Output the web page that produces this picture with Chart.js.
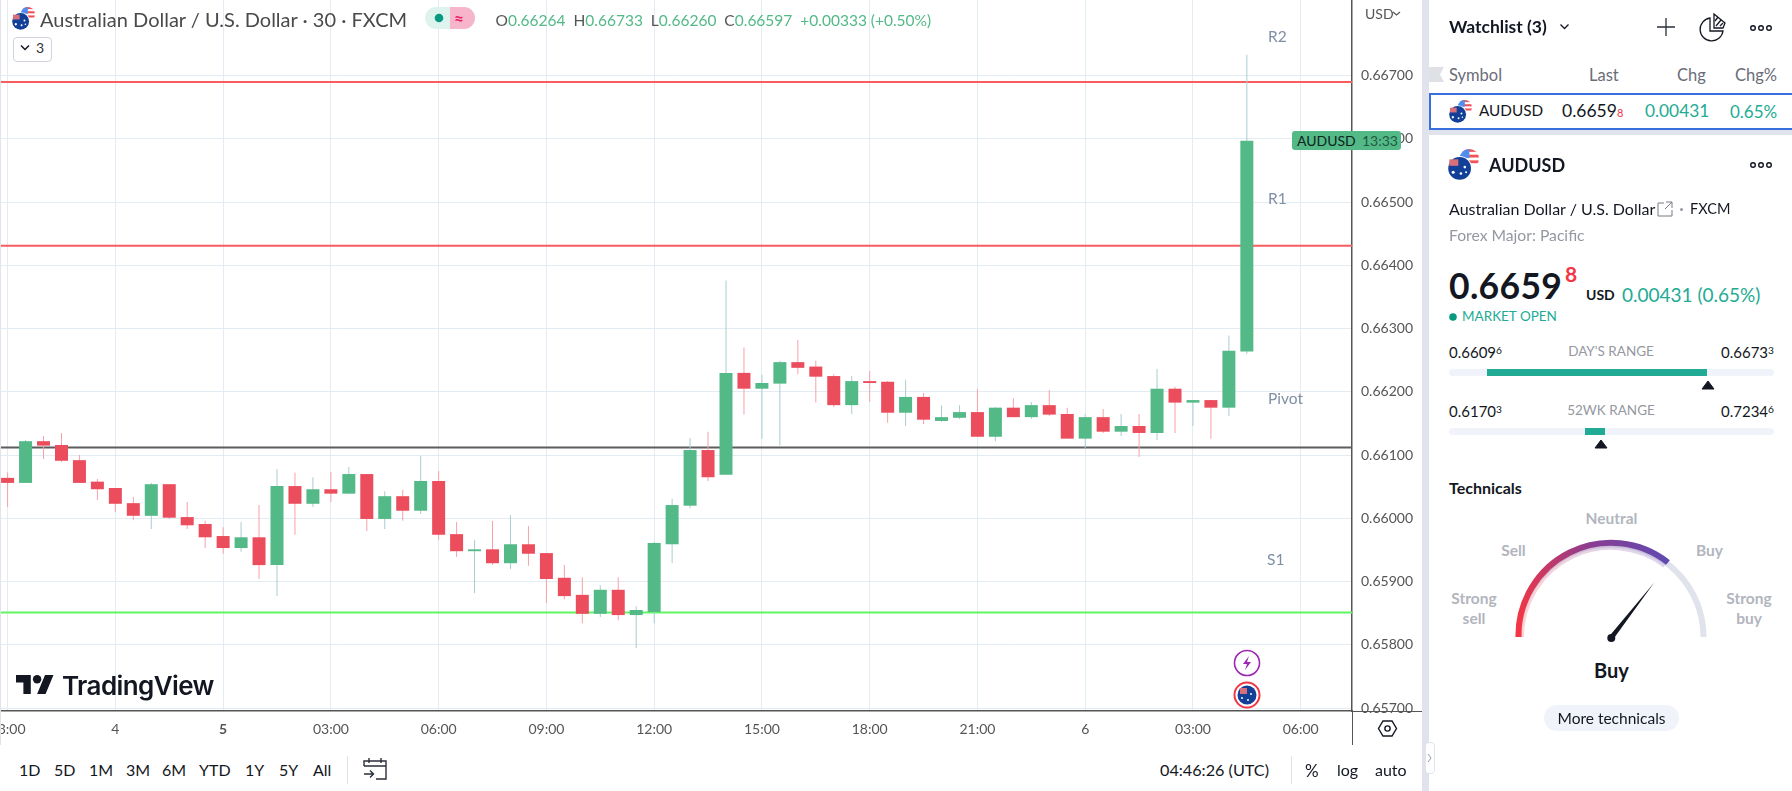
<!DOCTYPE html>
<html><head><meta charset="utf-8">
<script src="https://cdn.jsdelivr.net/npm/chart.js@4"></script>
<style>
html,body{margin:0;padding:0;width:1792px;height:791px;overflow:hidden;background:#fff;font-family:Lato,"Open Sans",sans-serif;color:#131722}
#wrap{position:absolute;left:0;top:0;width:1422px;height:745px}
.t{position:absolute;white-space:nowrap;line-height:1;transform:translateY(-50%)}
.c{transform:translate(-50%,-50%)}
.r{position:absolute;background:#e0e3eb}
svg{position:absolute;overflow:visible}
sup{font-size:.68em;vertical-align:baseline;position:relative;top:-.42em}
.g{color:#53b987}.tl{color:#22ab94}
.lv{color:#7f8fa3;font-size:15.5px}
.gl{color:#b2b5be;font-size:15.5px;font-weight:700;text-align:center}
.tb{font-size:16px;color:#131722}
.hd{font-size:16.5px;color:#6a6d78}
</style></head><body>
<div id="wrap"><canvas id="cv"></canvas></div>
<div id="ov"></div>
<script>
const opens=[.66064,.66056,.66122,.66116,.66092,.66058,.66048,.66024,.66004,.66054,.66002,.65991,.65972,.65953,.65970,.65926,.66051,.66023,.66046,.66039,.66070,.65999,.66035,.66012,.66059,.65975,.65948,.65951,.65929,.65959,.65945,.65906,.65879,.65849,.65887,.65847,.65852,.65959,.66020,.66108,.66069,.66230,.66205,.66213,.66247,.66240,.66225,.66179,.66217,.66216,.66167,.66192,.66154,.66159,.66168,.66129,.66175,.66160,.66179,.66165,.66126,.66160,.66137,.66146,.66135,.66205,.66183,.66187,.66175,.66264];
const closes=[.66056,.66122,.66115,.66091,.66056,.66046,.66023,.66004,.66054,.66001,.65989,.65970,.65953,.65970,.65926,.66051,.66023,.66046,.66039,.66070,.65999,.66035,.66012,.66059,.65974,.65948,.65951,.65929,.65959,.65944,.65904,.65877,.65849,.65887,.65847,.65855,.65961,.66021,.66108,.66065,.66230,.66205,.66214,.66247,.66238,.66224,.66179,.66217,.66214,.66167,.66192,.66156,.66160,.66168,.66129,.66175,.66160,.66179,.66164,.66126,.66160,.66137,.66146,.66135,.66205,.66183,.66187,.66175,.66265,.66597];
const highs=[.66073,.66124,.66130,.66135,.66100,.66062,.66048,.66034,.66056,.66054,.66026,.65996,.65986,.65994,.66021,.66078,.66072,.66065,.66073,.66081,.66070,.66043,.66045,.66099,.66075,.65994,.65966,.65996,.66005,.65988,.65945,.65926,.65907,.65894,.65907,.65861,.65963,.66031,.66127,.66137,.66376,.66270,.66227,.66249,.66282,.66249,.66228,.66225,.66233,.66217,.66219,.66198,.66179,.66179,.66205,.66176,.66190,.66184,.66203,.66175,.66165,.66173,.66165,.66165,.66236,.66208,.66187,.66187,.66289,.66733];
const lows=[.66018,.66056,.66094,.66089,.66056,.66029,.66010,.65997,.65983,.65999,.65983,.65953,.65944,.65947,.65904,.65877,.65974,.66018,.66026,.66039,.65980,.65983,.65996,.66007,.65966,.65939,.65882,.65926,.65920,.65925,.65866,.65872,.65834,.65844,.65839,.65795,.65834,.65929,.66016,.66059,.66069,.66164,.66126,.66115,.66228,.66183,.66176,.66165,.66184,.66151,.66146,.66149,.66153,.66157,.66129,.66122,.66160,.66157,.66162,.66126,.66111,.66135,.66130,.66097,.66124,.66135,.66146,.66126,.66162,.66260];
const xTickValues=[0,6,12,18,24,30,36,42,48,54,60,66,72];
const xTickLabels=["03:00","4","5","03:00","06:00","09:00","12:00","15:00","18:00","21:00","6","03:00","06:00"];
const yTickValues=[.657,.658,.659,.660,.661,.662,.663,.664,.665,.666,.667];
const levelR2=.6669, levelR1=.66431, levelPivot=.66112, levelS1=.65851;

const UP='#53b987',DOWN='#eb4d5c',UPW='#a9cdd0',DOWNW='#f7a1aa',GRID='#e3ecf2',AX='#555555';
const XMIN=-0.423,XMAX=74.855,YMIN=.656953,YMAX=.668197;
const idx=opens.map((_,i)=>i);
const bodies=idx.map(i=>({x:i,y:[opens[i],closes[i]]}));
const wicks=idx.map(i=>({x:i,y:[lows[i],highs[i]]}));
const colBody=idx.map(i=>closes[i]>=opens[i]?UP:DOWN);
const colWick=idx.map(i=>closes[i]>=opens[i]?UPW:DOWNW);
const lvl=(v,c,n)=>({type:'line',label:n,data:[{x:XMIN,y:v},{x:XMAX,y:v}],borderColor:c,borderWidth:2,pointRadius:0,order:5,parsing:{xAxisKey:'x',yAxisKey:'y'}});

new Chart(document.getElementById('cv'),{
 type:'bar',
 data:{datasets:[
  {label:'Body',data:bodies,backgroundColor:colBody,barThickness:13,order:1,grouped:false,inflateAmount:0},
  {label:'Wick',data:wicks,backgroundColor:colWick,barThickness:1,order:2,grouped:false,inflateAmount:0},
  lvl(levelR2,'#f75c5e','R2'),lvl(levelR1,'#f75c5e','R1'),lvl(levelPivot,'#5d5d5d','Pivot'),lvl(levelS1,'#62f562','S1')
 ]},
 options:{responsive:true,maintainAspectRatio:false,animation:false,
  layout:{padding:0},
  plugins:{legend:{display:false},tooltip:{enabled:false}},
  scales:{
   x:{type:'linear',offset:false,min:XMIN,max:XMAX,
    afterBuildTicks:s=>{s.ticks=xTickValues.map(v=>({value:v}))},
    afterFit:s=>{s.height=34;s.paddingLeft=0;s.paddingRight=0},
    grid:{color:GRID,drawTicks:false,lineWidth:1,offset:false},
    border:{color:AX,width:1.5},
    ticks:{autoSkip:false,maxRotation:0,padding:10,color:'#555',
      font:c=>({family:'Lato',size:14,weight:c.tick&&c.tick.value===12?'bold':'normal'}),
      callback:v=>xTickLabels[xTickValues.indexOf(v)]}},
   y:{type:'linear',position:'right',min:YMIN,max:YMAX,
    afterBuildTicks:s=>{s.ticks=yTickValues.map(v=>({value:v}))},
    afterFit:s=>{s.width=70;s.paddingTop=0;s.paddingBottom=0},
    grid:{color:GRID,drawTicks:false,lineWidth:1},
    border:{color:AX,width:1.5},
    ticks:{autoSkip:false,padding:9,color:'#555',font:{family:'Lato',size:14},crossAlign:'near',
      callback:v=>v.toFixed(5)}}
  }}
});

/* ---- surrounding page furniture ---- */
const flag=(x,y,s)=>`<svg style="left:${x}px;top:${y}px" width="${s}" height="${s}" viewBox="0 0 24 24">
<defs><clipPath id="u${x}"><circle cx="16.5" cy="7.5" r="7.5"/></clipPath></defs>
<g clip-path="url(#u${x})"><rect x="9" y="0" width="15" height="15" fill="#fff"/><rect x="9" y="0" width="15" height="2.2" fill="#f0525a"/><rect x="9" y="4.4" width="15" height="2.2" fill="#f0525a"/><rect x="9" y="8.8" width="15" height="2.2" fill="#f0525a"/><rect x="9" y="0" width="7.5" height="7" fill="#4f8ef0"/></g>
<circle cx="9" cy="15" r="9.6" fill="#fff"/><circle cx="9" cy="15" r="8.8" fill="#123f97"/>
<rect x="1" y="8" width="7" height="5" fill="#d8707c"/><circle cx="13" cy="14" r="1" fill="#fff"/><circle cx="10" cy="19" r="1" fill="#fff"/><circle cx="4" cy="18" r="1.2" fill="#fff"/><circle cx="14" cy="18" r=".8" fill="#fff"/></svg>`;
const T=(x,y,s,st='',cl='')=>`<div class="t ${cl}" style="left:${x}px;top:${y}px;${st}">${s}</div>`;
const R=(x,y,w,h,c,st='')=>`<div class="r" style="left:${x}px;top:${y}px;width:${w}px;height:${h}px;background:${c};${st}"></div>`;
const dots=(x,y)=>`<svg style="left:${x}px;top:${y}px" width="24" height="8" viewBox="0 0 24 8" fill="none" stroke="#131722" stroke-width="1.4"><circle cx="4" cy="4" r="2.3"/><circle cx="12" cy="4" r="2.3"/><circle cx="20" cy="4" r="2.3"/></svg>`;
let h='';
/* chart frame extras */
h+=R(0,0,1,745,'#e0e3eb');
h+=R(1351.5,711,1.5,34,'#555');
h+=R(1352,710.5,70,1.5,'#555');
/* chart header */
h+=flag(12,7,23);
h+=T(40,19,'Australian Dollar / U.S. Dollar · 30 · FXCM','font-size:20px;color:#4a4a4a');
h+=R(425,7,25,22,'#dff3ee','border-radius:11px 0 0 11px')+R(450,7,25,22,'#f7b5cb','border-radius:0 11px 11px 0');
h+=`<svg style="left:434px;top:13px" width="10" height="10"><circle cx="5" cy="5" r="4.3" fill="#089981"/></svg>`;
h+=T(454,18,'≈','font-size:17px;font-weight:700;color:#e91e63');
h+=T(495.5,20.5,'O<span class="g">0.66264</span>&nbsp; H<span class="g">0.66733</span>&nbsp; L<span class="g">0.66260</span>&nbsp; C<span class="g">0.66597</span>&nbsp; <span class="g">+0.00333 (+0.50%)</span>','font-size:15.5px;color:#555');
h+=R(12.5,36.5,37,23,'#fff','border:1px solid #d1d4dc;border-radius:4px');
h+=`<svg style="left:19px;top:44px" width="12" height="8" fill="none" stroke="#131722" stroke-width="1.5"><path d="M2 1.5l4 4 4-4"/></svg>`;
h+=T(36,48,'3','font-size:14px;color:#333');
/* level tags */
h+=T(1268,37,'R2','',"lv")+T(1268,199,'R1','',"lv")+T(1268,399,'Pivot','',"lv")+T(1267,560,'S1','',"lv");
/* USD + badge */
h+=T(1365,14,'USD','font-size:14px;color:#555');
h+=`<svg style="left:1392px;top:10px" width="10" height="8" fill="none" stroke="#555" stroke-width="1.2"><path d="M1 2l3.5 3 3.5-3"/></svg>`;
h+=R(1292,131,109,19,'#53b987','border-radius:3px');
h+=T(1297,140.5,'AUDUSD','font-size:14px;color:#10241c')+T(1362,140.5,'13:33','font-size:14px;color:#1f5a40');
/* news icons */
h+=`<svg style="left:1232px;top:648px" width="30" height="62"><circle cx="15" cy="15" r="12.5" fill="#fff" stroke="#9c27b0" stroke-width="1.6"/><path d="M17 8l-6 8h4l-2 6 6-8h-4z" fill="#9c27b0"/><circle cx="15" cy="47" r="12.5" fill="#fff" stroke="#f23645" stroke-width="2"/><circle cx="15" cy="47" r="9.5" fill="#123f97"/><rect x="8" y="40" width="7" height="6" fill="#d8707c"/><circle cx="19" cy="46" r="1" fill="#fff"/><circle cx="16" cy="52" r="1" fill="#fff"/><circle cx="10" cy="50" r="1" fill="#fff"/></svg>`;
/* watermark */
h+=`<svg style="left:16px;top:675px" width="38" height="19" viewBox="0 0 36 18" fill="#131722"><path d="M14 18H7V7H0V0h14zM28 18h-8L27.5 0h8z"/><circle cx="20" cy="4" r="4"/></svg>`;
h+=T(62,686,'TradingView','font-family:Inter;font-size:26px;font-weight:600;letter-spacing:-.6px;color:#131722');
/* range toolbar */
[['1D',19],['5D',54],['1M',89],['3M',126],['6M',162],['YTD',199],['1Y',245],['5Y',279],['All',313]].forEach(a=>h+=T(a[1],769.5,a[0],'','tb'));
h+=R(346.5,756,1,28,'#e0e3eb');
h+=`<svg style="left:363px;top:757px" width="25" height="24" fill="none" stroke="#2a2e39" stroke-width="1.4"><path d="M1 9V4h22v18H13M1 9h22M6 1v5M18 1v5M1 17h9M7 13.500l3.500 3.500-3.500 3.500"/></svg>`;
h+=T(1160,770,'04:46:26 (UTC)','font-size:16.2px')+R(1290.5,756,1,28,'#e0e3eb');
h+=T(1305,770,'%','font-size:17px')+T(1337,770,'log','font-size:16px')+T(1375,770,'auto','font-size:16px');
h+=`<svg style="left:1378px;top:719px" width="19" height="19" fill="none" stroke="#131722" stroke-width="1.4"><path d="M5 2h9l4.500 7.500-4.500 7.500H5L.5 9.500z"/><circle cx="9.500" cy="9.500" r="2.600"/></svg>`;
/* right sidebar */
h+=R(1422,0,7,791,'#e0e3eb');
h+=R(1425,742,10,32,'#fff','border:1px solid #e0e3eb;border-radius:4px;box-sizing:border-box');
h+=`<svg style="left:1427px;top:753px" width="6" height="10" fill="none" stroke="#9598a1" stroke-width="1"><path d="M1 1l3 4-3 4"/></svg>`;
h+=T(1449,27,'Watchlist (3)','font-size:17.5px;font-weight:700');
h+=`<svg style="left:1559px;top:23px" width="12" height="8" fill="none" stroke="#131722" stroke-width="1.3"><path d="M1.500 1.500l4 4 4-4"/></svg>`;
h+=`<svg style="left:1657px;top:18px" width="18" height="18" stroke="#2a2e39" stroke-width="1.3"><path d="M9 0v18M0 9h18"/></svg>`;
h+=`<svg style="left:1700px;top:13px" width="26" height="28" fill="none" stroke="#131722" stroke-width="1.3"><path d="M10 5a11.500 11.500 0 1 0 13 13H10z"/><path d="M14 1l11 9-2 5h-9z"/><path d="M16 13l5-6M15 8l3-4M20 13l3-3"/></svg>`;
h+=dots(1749,24);
h+=`<svg style="left:1429px;top:67px" width="15" height="15"><path d="M0 0h15l-4 7.500 4 7.500H0z" fill="#dfe1e6"/></svg>`;
h+=T(1449,75,'Symbol','','hd')+T(1589,75,'Last','','hd')+T(1677,75,'Chg','','hd')+T(1735,75,'Chg%','','hd');
h+=R(1429,92.5,363,37.5,'#fff','border:2px solid #3a6fe0;border-right:none;box-sizing:border-box');
h+=R(1429,130,363,5,'#e0e3eb');
h+=flag(1449,100,23);
h+=T(1479,111,'AUDUSD','font-size:15.3px')+T(1562,111,'0.6659<span style="color:#f23645;font-size:11px">8</span>','font-size:17.5px');
h+=T(1645,111,'0.00431','font-size:17.3px',"tl")+T(1730,111,'0.65%','font-size:17px',"tl");
h+=flag(1448,149,31);
h+=T(1489,165,'AUDUSD','font-size:18px;font-weight:700');
h+=dots(1749,161);
h+=T(1449,209,'Australian Dollar / U.S. Dollar','font-size:16px');
h+=`<svg style="left:1657px;top:201px" width="16" height="16" fill="none" stroke="#787b86" stroke-width="1"><path d="M7 2H1v13h14V9M9 1h6v6M15 1L8 8"/></svg>`;
h+=R(1680,207.5,3,3,'#9598a1','border-radius:2px');
h+=T(1690,209,'FXCM','font-size:14.5px');
h+=T(1449,236,'Forex Major: Pacific','font-size:15.7px;color:#9598a1');
h+=T(1449,286,'0.6659','font-size:35.5px;font-weight:700;letter-spacing:.3px');
h+=T(1565,273,'8','font-size:21px;font-weight:700;color:#f23645');
h+=T(1586,295,'USD','font-size:14px;font-weight:700');
h+=T(1622,294,'0.00431 (0.65%)','font-size:19px',"tl");
h+=`<svg style="left:1449px;top:313px" width="8" height="8"><circle cx="4" cy="4" r="3.800" fill="#089981"/></svg>`;
h+=T(1462,317,'MARKET OPEN','font-size:13.500px',"tl");
const rangeRow=(y,l,n,r,bx,bw,tx)=>{
 let s=T(1449,y,l,'font-size:15px');
 s+=T(1611,y,n,'font-size:13.500px;color:#9598a1','c');
 s+=`<div class="t" style="right:18px;top:${y}px;font-size:15px">${r}</div>`;
 s+=R(1449,y+17,325,7,'#f0f3fa','border-radius:4px');
 s+=R(bx,y+17,bw,7,'#22ab94');
 s+=`<svg style="left:${tx-7}px;top:${y+28}px" width="14" height="10"><path d="M7 1L13 9H1z" fill="#131722" stroke="#131722" stroke-linejoin="round"/></svg>`;
 return s;};
h+=rangeRow(352,'0.6609<sup>6</sup>',"DAY'S RANGE",'0.6673<sup>3</sup>',1487,220,1707.5);
h+=rangeRow(411,'0.6170<sup>3</sup>','52WK RANGE','0.7234<sup>6</sup>',1585,20,1600.5);
h+=T(1449,488,'Technicals','font-size:16px;font-weight:700');
/* gauge */
h+=`<svg style="left:1500px;top:530px" width="222" height="120" viewBox="1500 530 222 120">
<defs><linearGradient id="gg" gradientUnits="userSpaceOnUse" x1="1515" y1="600" x2="1670" y2="560"><stop offset="0" stop-color="#f23645"/><stop offset=".55" stop-color="#8a3d92"/><stop offset="1" stop-color="#5f4bb0"/></linearGradient></defs>
<path d="M1518.500 637A92.500 92.500 0 0 1 1703.500 637" fill="none" stroke="#e0e3eb" stroke-width="6"/>
<path d="M1521 637A90 90 0 0 1 1665.200 565" fill="none" stroke="url(#gg)" stroke-opacity=".22" stroke-width="6"/>
<path d="M1518.500 637A92.500 92.500 0 0 1 1668 562.500" fill="none" stroke="url(#gg)" stroke-width="6"/>
<path d="M1609 636.500L1654.300 582.500 1613 639.500z" fill="#131722"/><circle cx="1611.300" cy="638" r="4" fill="#131722"/></svg>`;
h+=T(1611.5,519,'Neutral','','gl c')+T(1513.500,551,'Sell','','gl c')+T(1709.500,551,'Buy','','gl c');
h+=T(1474,599,'Strong','','gl c')+T(1474,619,'sell','','gl c')+T(1749,599,'Strong','','gl c')+T(1749,619,'buy','','gl c');
h+=T(1611.5,670,'Buy','font-size:20px;font-weight:700','c');
h+=R(1544,705,135,26,'#f0f3fa','border-radius:13px');
h+=T(1611.5,718.5,'More technicals','font-size:15.500px','c');
document.getElementById('ov').innerHTML=h;
</script>
</body></html>
